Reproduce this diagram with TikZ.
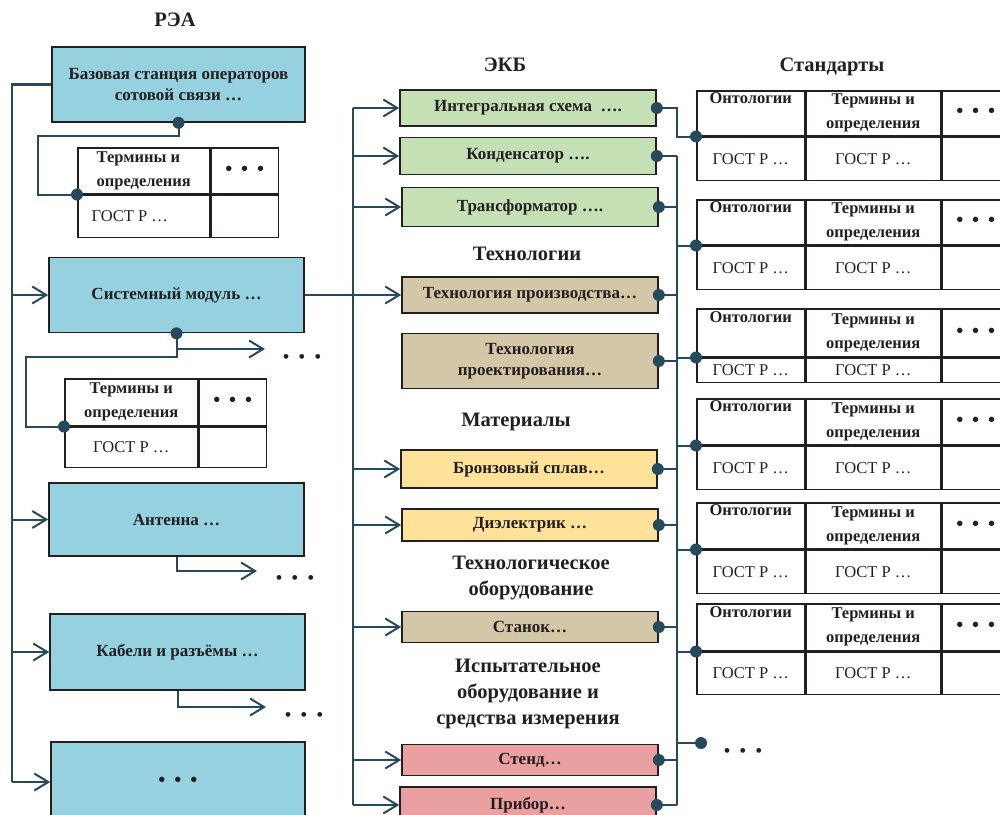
\documentclass[tikz,border=0pt]{standalone}
\usepackage{fontspec}
\setmainfont{Liberation Serif}
\usetikzlibrary{arrows.meta,positioning,calc}

\definecolor{reablue}{RGB}{150,209,224}
\definecolor{ekbgreen}{RGB}{197,224,180}
\definecolor{techtan}{RGB}{212,199,167}
\definecolor{matyellow}{RGB}{255,226,153}
\definecolor{testpink}{RGB}{234,159,160}
\definecolor{busline}{RGB}{38,74,92}
\definecolor{ink}{RGB}{35,31,32}

\newcommand{\tripledot}{{\fontsize{20}{20}\selectfont •\hspace{0.45em}•\hspace{0.45em}•}}

\begin{document}
\begin{tikzpicture}[x=1pt, y=-1pt,
    every node/.style={text=ink},
    boxtext/.style={font=\fontsize{17}{20.5}\selectfont\bfseries},
    rea/.style={draw=ink, line width=1.6pt, fill=reablue, align=center, minimum width=255pt, minimum height=75pt, boxtext},
    ekb/.style={draw=ink, line width=1.6pt, align=center, minimum width=256pt, minimum height=36pt, inner sep=0pt, boxtext},
    title/.style={font=\fontsize{20.5}{26}\selectfont\bfseries, align=center},
    cell/.style={draw=ink, line width=1.5pt, anchor=north west, inner sep=0pt, align=center, font=\fontsize{16.5}{24}\selectfont\bfseries},
    gost/.style={cell, font=\fontsize{16.5}{24}\selectfont},
    link/.style={draw=busline, line width=2pt},
    arr/.style={link, -{Straight Barb[length=14pt, width=17pt, line width=2pt]}},
    dots/.style={inner sep=0pt}
  ]
    \clip (0,0) rectangle (1000,814);

    % РЭА
    \node[title] (reat) at (175,20) {РЭА};
    \node[rea, minimum width=253pt] (bsc) at (178.5,84.5) {Базовая станция операторов\\сотовой связи …};
    \node[rea] (sysmod) at (176.5,295) {Системный модуль …};
    \node[rea, minimum height=73pt] (antenna) at (176.5,519.5) {Антенна …};
    \node[rea, minimum height=76pt] (cables) at (177.5,652) {Кабели и разъёмы …};
    \node[rea, minimum width=254pt, minimum height=80pt] (more) at (178,782) {\raisebox{-8pt}{\tripledot}};

    % Таблицы РЭА
    \node[cell, align=left, minimum width=132pt, minimum height=46pt] (t1a) at (77,147) {Термины и\\определения};
    \node[cell, minimum width=67pt, minimum height=46pt] (t1b) at (t1a.north east) {\tripledot};
    \node[gost, minimum width=132pt, minimum height=42pt] (t1c) at (t1a.south west) {ГОСТ Р …\hspace{28pt}};
    \node[gost, minimum width=67pt, minimum height=42pt] (t1d) at (t1a.south east) {};

    \node[cell, minimum width=133pt, minimum height=47pt] (t2a) at (64,378) {Термины и\\определения};
    \node[cell, minimum width=67pt, minimum height=47pt] (t2b) at (t2a.north east) {\tripledot};
    \node[gost, minimum width=133pt, minimum height=40pt] (t2c) at (t2a.south west) {ГОСТ Р …};
    \node[gost, minimum width=67pt, minimum height=40pt] (t2d) at (t2a.south east) {};

    % ЭКБ
    \node[title] (ekbt) at (505,65) {ЭКБ};
    \node[ekb, fill=ekbgreen] (ic) at (528,108) {Интегральная схема \ ….};
    \node[ekb, fill=ekbgreen, minimum height=37pt] (cap) at (528,156) {Конденсатор ….};
    \node[ekb, fill=ekbgreen, minimum height=39pt] (trans) at (530,207) {Трансформатор ….};
    \node[title] (techt) at (527,254) {Технологии};
    \node[ekb, fill=techtan] (prodtech) at (530,295) {Технология производства…};
    \node[ekb, fill=techtan, minimum height=55pt] (designtech) at (530,361) {Технология\\проектирования…};
    \node[title] (matt) at (516,422) {Материалы};
    \node[ekb, fill=matyellow, minimum height=38pt] (bronze) at (529,469) {Бронзовый сплав…};
    \node[ekb, fill=matyellow, minimum height=32pt] (dielec) at (530,525) {Диэлектрик …};
    \node[title] (equipt) at (531,578) {Технологическое\\оборудование};
    \node[ekb, fill=techtan, minimum height=31pt] (lathe) at (530,627) {Станок…};
    \node[title] (testt) at (528,694) {Испытательное\\оборудование и\\средства измерения};
    \node[ekb, fill=testpink, minimum height=31pt] (stand) at (530,760) {Стенд…};
    \node[ekb, fill=testpink] (device) at (528,805) {Прибор…};

    % Стандарты
    \node[title] (stdt) at (832,67) {Стандарты};
    \foreach \n/\ya/\yb/\yc in {1/90/135/178, 2/199/244/287, 3/308/356/380, 4/398/444/487, 5/502/548/591, 6/603/650/692} {
      \pgfmathsetmacro\hh{\yb-\ya}
      \pgfmathsetmacro\hg{\yc-\yb}
      \node[cell, minimum width=108pt, minimum height=\hh pt] (on\n) at (696,\ya) {Онтологии\\\strut};
      \node[cell, minimum width=134pt, minimum height=\hh pt] (td\n) at (on\n.north east) {Термины и\\определения};
      \node[cell, minimum width=80pt, minimum height=\hh pt] (dd\n) at (td\n.north east) {\hspace{-12pt}\raisebox{-5pt}{\tripledot}};
      \node[gost, minimum width=108pt, minimum height=\hg pt] (ga\n) at (on\n.south west) {ГОСТ Р …};
      \node[gost, minimum width=134pt, minimum height=\hg pt] (gb\n) at (on\n.south east) {ГОСТ Р …};
      \node[gost, minimum width=80pt, minimum height=\hg pt] (gc\n) at (td\n.south east) {};
    }

    % Левая шина
    \coordinate (lbus) at (12,0);
    \draw[link, line width=2.6pt] (bsc.west) -| (lbus |- more.west);
    \foreach \b in {sysmod,antenna,cables,more}
      \draw[arr] (lbus |- \b.west) -- (\b.west);

    % РЭА -> таблицы и продолжения
    \draw[link] (bsc.south) -- ++(0,13) -| ([xshift=-39pt]t1a.south west) -- (t1a.south west);
    \draw[link] (sysmod.south) -- ++(0,24) -| ([xshift=-38pt]t2a.south west) -- (t2a.south west);
    \coordinate (smore) at (265,349);
    \coordinate (amore) at (257,571);
    \coordinate (cmore) at (266,707);
    \draw[arr] (sysmod.south |- smore) -- (smore);
    \draw[arr] (antenna.south) |- (amore);
    \draw[arr] (cables.south) |- (cmore);
    \node[dots] (smored) at (302,359) {\tripledot};
    \node[dots] (amored) at (295,580) {\tripledot};
    \node[dots] (cmored) at (304,717) {\tripledot};

    % Шина ЭКБ
    \coordinate (mbus) at (353,0);
    \draw[link] (sysmod.east) -- (mbus |- sysmod.east);
    \draw[link] (mbus |- ic.west) -- (mbus |- device.west);
    \foreach \e in {ic,cap,trans,prodtech,bronze,dielec,lathe,stand,device}
      \draw[arr] (mbus |- \e.west) -- (\e.west);

    % Шина стандартов
    \coordinate (rbus) at (677,0);
    \coordinate (etc) at (701,743);
    \draw[link] (ic.east) -- ++(20,0) |- (on1.south west);
    \draw[link] (rbus |- cap.east) -- (rbus |- device.east);
    \foreach \e in {cap,trans,prodtech,designtech,bronze,dielec,lathe,stand,device}
      \draw[link] (\e.east) -- (rbus |- \e.east);
    \foreach \n in {2,...,6}
      \draw[link] (rbus |- on\n.south west) -- (on\n.south west);
    \draw[link] (rbus |- etc) -- (etc);
    \node[dots] (etcd) at (743,753) {\tripledot};

    % Точки
    \foreach \e in {ic,cap,trans,prodtech,designtech,bronze,dielec,lathe,stand,device}
      \fill[busline] (\e.east) circle (6pt);
    \foreach \n in {1,...,6}
      \fill[busline] (on\n.south west) circle (6pt);
    \fill[busline] (etc) circle (6pt) (bsc.south) circle (6pt) (t1a.south west) circle (6pt)
      (sysmod.south) circle (6pt) (t2a.south west) circle (6pt);
  \end{tikzpicture}
\end{document}
